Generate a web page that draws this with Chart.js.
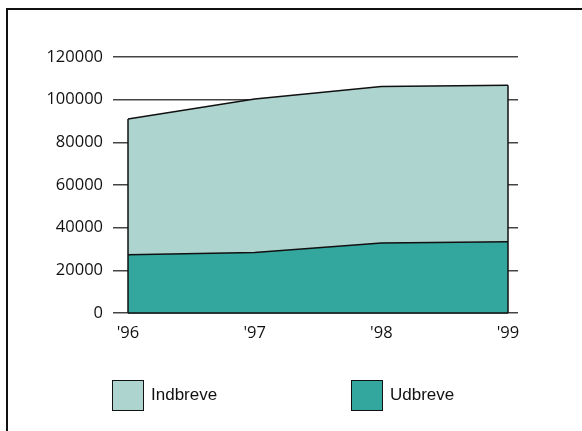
<!DOCTYPE html>
<html>
<head>
<meta charset="utf-8">
<script src="https://cdn.jsdelivr.net/npm/chart.js@4"></script>
<style>
  html, body { margin: 0; padding: 0; background: #fff; }
  #wrap { position: relative; width: 582px; height: 431px; overflow: hidden; }
  #frame { position: absolute; left: 6px; top: 8px; width: 600px; height: 450px;
           border-left: 2px solid #111; border-top: 2px solid #111; }
  #chart { position: absolute; left: 0; top: 0; }
  .leg { position: absolute; top: 380px; font-family: "Liberation Sans", Arial, sans-serif;
         font-size: 17px; color: #111; }
  .leg span.box { position: absolute; left: 0; top: 0; width: 30px; height: 29px; border: 1.5px solid #111; }
  .leg span.txt { position: absolute; left: 39px; top: 5px; white-space: nowrap; }
</style>
</head>
<body>
<div id="wrap">
  <div id="frame"></div>
  <canvas id="chart" width="582" height="431"></canvas>
  <div id="legend"></div>
</div>
<script>
// Data
const years = ["'96", "'97", "'98", "'99"];
const udbreve = [27300, 28400, 32800, 33400];
const indbreve = [63600, 71900, 73400, 73300];   // stacked on top of udbreve
const yTicks = [0, 20000, 40000, 60000, 80000, 100000, 120000];

const lightColor = "#aed4cf";
const darkColor = "#33a69e";

// Legend (HTML)
const legendItems = [
  { label: "Indbreve", color: lightColor, left: 112 },
  { label: "Udbreve", color: darkColor, left: 351 }
];
const legendEl = document.getElementById("legend");
legendItems.forEach(it => {
  const d = document.createElement("div");
  d.className = "leg";
  d.style.left = it.left + "px";
  d.innerHTML = `<span class="box" style="background:${it.color}"></span><span class="txt">${it.label}</span>`;
  legendEl.appendChild(d);
});

// vertical edges of the areas + base line
const edgePlugin = {
  id: "edges",
  afterDatasetsDraw(chart) {
    const ctx = chart.ctx;
    const top = chart.getDatasetMeta(1).data;
    const y0 = chart.scales.y.getPixelForValue(0);
    ctx.save();
    ctx.strokeStyle = "#111";
    ctx.lineWidth = 1.5;
    [0, top.length - 1].forEach(i => {
      ctx.beginPath();
      ctx.moveTo(top[i].x, y0);
      ctx.lineTo(top[i].x, top[i].y);
      ctx.stroke();
    });
    ctx.beginPath();
    ctx.moveTo(top[0].x, y0);
    ctx.lineTo(top[top.length - 1].x, y0);
    ctx.stroke();
    ctx.restore();
  }
};

const tickFont = { family: "'Open Sans', sans-serif", size: 16.5 };

new Chart(document.getElementById("chart"), {
  type: "line",
  data: {
    labels: years,
    datasets: [
      {
        label: "Udbreve",
        data: udbreve,
        backgroundColor: darkColor,
        borderColor: "#111",
        borderWidth: 1.5,
        pointRadius: 0,
        fill: "origin",
        tension: 0
      },
      {
        label: "Indbreve",
        data: indbreve,
        backgroundColor: lightColor,
        borderColor: "#111",
        borderWidth: 1.5,
        pointRadius: 0,
        fill: "-1",
        tension: 0
      }
    ]
  },
  options: {
    responsive: false,
    animation: false,
    layout: { padding: { left: 0, right: 64, top: 57, bottom: 78 } },
    plugins: { legend: { display: false }, tooltip: { enabled: false } },
    scales: {
      x: {
        offset: false,
        grid: { display: false },
        border: { display: false },
        ticks: { color: "#111", font: tickFont, padding: 2, maxRotation: 0 },
        afterFit: s => { s.height = 40; }
      },
      y: {
        stacked: true,
        min: 0,
        max: 120000,
        afterBuildTicks: s => { s.ticks = yTicks.map(v => ({ value: v })); },
        grid: { color: "#444", lineWidth: 1.5, tickLength: 15 },
        border: { display: false },
        ticks: { color: "#111", font: tickFont, padding: 10, callback: v => String(v) },
        afterFit: s => { s.width = 128; }
      },
      y2: {
        position: "right",
        min: 0,
        max: 120000,
        afterBuildTicks: s => { s.ticks = yTicks.map(v => ({ value: v })); },
        grid: { drawOnChartArea: false, color: "#444", lineWidth: 1.5, tickLength: 10 },
        border: { display: false },
        ticks: { display: false },
        afterFit: s => { s.width = 10; }
      }
    }
  },
  plugins: [edgePlugin]
});
</script>
</body>
</html>
